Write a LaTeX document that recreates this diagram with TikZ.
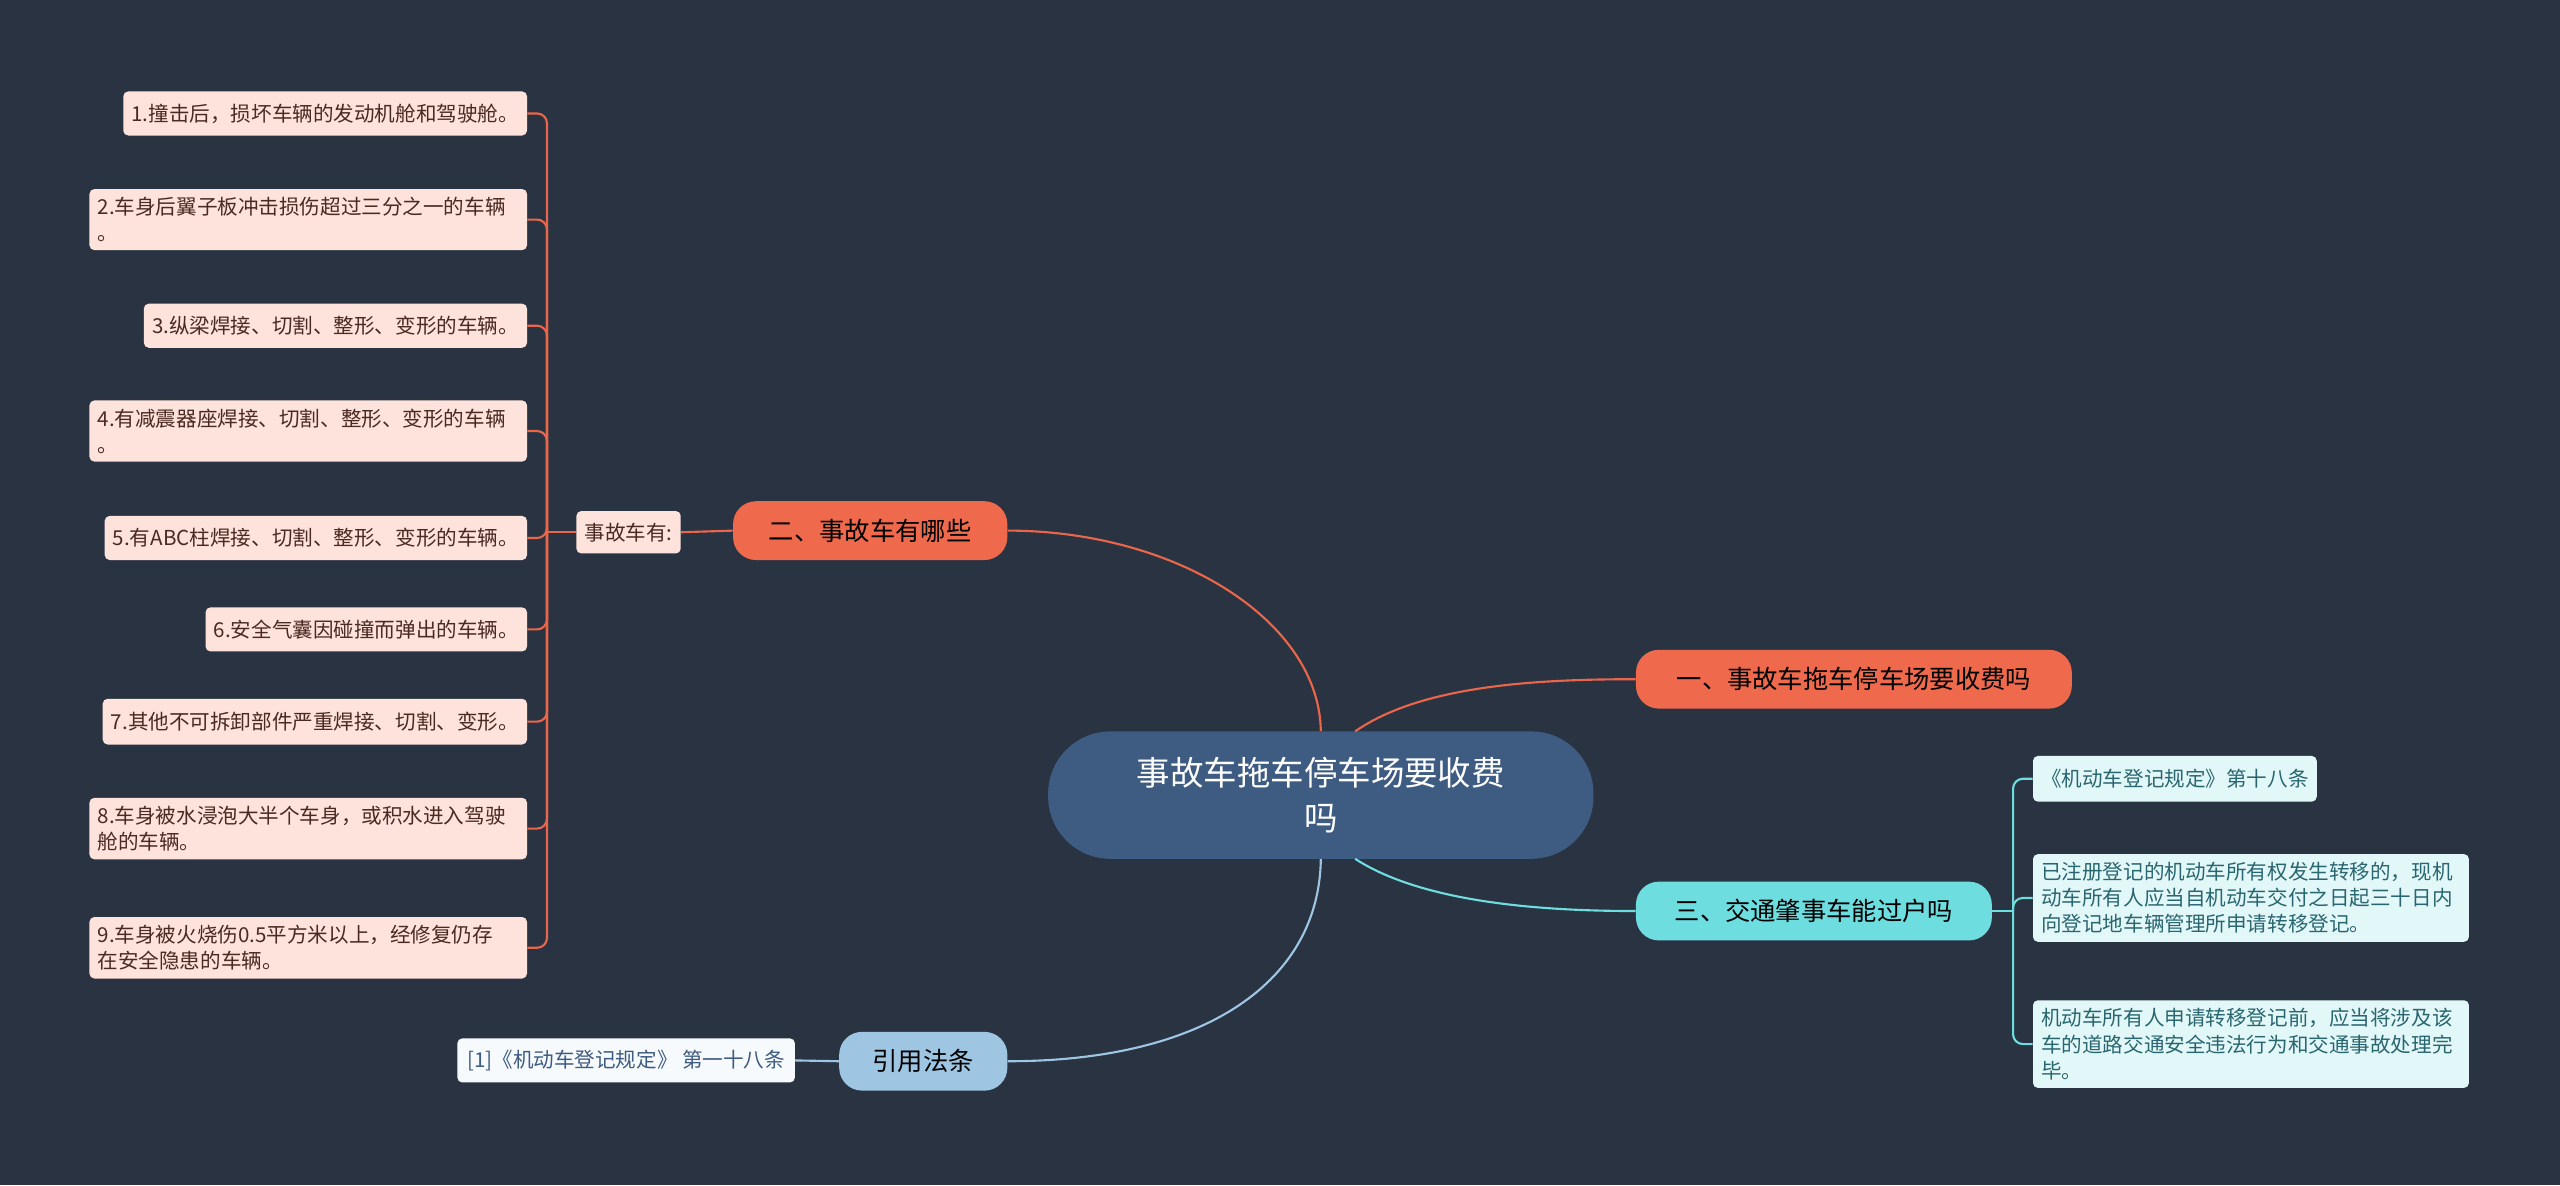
\documentclass[tikz,border=0pt]{standalone}
\usepackage{fontspec}
\newfontfamily\cjk{Noto Sans CJK SC}
\begin{document}
\begin{tikzpicture}[x=1pt,y=-1pt,font=\cjk,
 leafo/.style={fill=leaffill,rounded corners=3,text=leaftext,font=\cjk\fontsize{12.6}{16}\selectfont,align=left,inner sep=5pt,anchor=east},
 leafc/.style={fill=cleaf,rounded corners=3,text=ctext,font=\cjk\fontsize{12.6}{16}\selectfont,align=left,inner sep=5pt,anchor=west},
 br/.style={rounded corners=14,text=black,font=\cjk\fontsize{15.5}{18}\selectfont,minimum height=36pt,inner xsep=12pt},
 lo/.style={draw=orangel,line width=1.3pt},
 lc/.style={draw=cyanl,line width=1.3pt},
 lb/.style={draw=bluel,line width=1.3pt}]
\definecolor{bg}{HTML}{2A3342}
\definecolor{centerf}{HTML}{3E5B82}
\definecolor{orangef}{HTML}{EF6A4C}
\definecolor{orangel}{HTML}{E9664A}
\definecolor{cyanf}{HTML}{6EDDE0}
\definecolor{cyanl}{HTML}{6EDDE0}
\definecolor{bluef}{HTML}{9EC6E2}
\definecolor{bluel}{HTML}{9EC6E2}
\definecolor{leaffill}{HTML}{FDE3DB}
\definecolor{leaftext}{HTML}{4A2A22}
\definecolor{cleaf}{HTML}{E2F8F8}
\definecolor{ctext}{HTML}{2A6670}
\fill[bg] (0,0) rectangle (1568,726);
\useasboundingbox (0,0) rectangle (1568,726);
\node[fill=centerf,rounded corners=38,minimum width=334pt,minimum height=78pt,text=white,align=center,font=\cjk\fontsize{20.5}{28}\selectfont] (c) at (809,487) {事故车拖车停车场要收费\\吗};
\node[br,fill=orangef,minimum width=267pt] (b1) at (1135.5,416) {一、事故车拖车停车场要收费吗};
\node[br,fill=orangef,minimum width=168pt] (b2) at (533,325) {二、事故车有哪些};
\node[br,fill=cyanf,minimum width=218pt] (b3) at (1111,558) {三、交通肇事车能过户吗};
\node[br,fill=bluef,minimum width=103pt] (b4) at (565.5,650) {引用法条};
\draw[lo] (c.north) .. controls (808,380) and (720,325) .. (b2.east);
\draw[lo] (830,448) .. controls (870,420) and (940,416) .. (b1.west);
\draw[lc] (830,526) .. controls (870,552) and (940,558) .. (b3.west);
\draw[lb] (c.south) .. controls (808,600) and (740,650) .. (b4.east);
\node[leafo,anchor=center,minimum height=26pt] (sg) at (385,326) {事故车有:};
\draw[lo] (b2.west) -- (sg.east);
\coordinate (bo) at (335,326);
\draw[lo] (sg.west) -- (bo);
\node[leafo,minimum height=27pt] (i1) at (323,69.5) {1.撞击后，损坏车辆的发动机舱和驾驶舱。};
\node[leafo,text width=258pt] (i2) at (323,134.5) {2.车身后翼子板冲击损伤超过三分之一的车辆\\。};
\node[leafo,minimum height=27pt] (i3) at (323,199.5) {3.纵梁焊接、切割、整形、变形的车辆。};
\node[leafo,text width=258pt] (i4) at (323,264) {4.有减震器座焊接、切割、整形、变形的车辆\\。};
\node[leafo,minimum height=27pt] (i5) at (323,329.5) {5.有ABC柱焊接、切割、整形、变形的车辆。};
\node[leafo,minimum height=27pt] (i6) at (323,385.5) {6.安全气囊因碰撞而弹出的车辆。};
\node[leafo,minimum height=28pt] (i7) at (323,442) {7.其他不可拆卸部件严重焊接、切割、变形。};
\node[leafo,text width=258pt] (i8) at (323,507.5) {8.车身被水浸泡大半个车身，或积水进入驾驶\\舱的车辆。};
\node[leafo,text width=258pt] (i9) at (323,580.5) {9.车身被火烧伤0.5平方米以上，经修复仍存\\在安全隐患的车辆。};
\foreach \i in {1,...,9} \draw[lo,rounded corners=6] (bo) |- (i\i.east);
\coordinate (bc) at (1233,558);
\draw[lc] (b3.east) -- (bc);
\node[leafc,minimum height=28pt] (r1) at (1245,477) {《机动车登记规定》第十八条};
\node[leafc,text width=257pt] (r2) at (1245,550) {已注册登记的机动车所有权发生转移的，现机\\动车所有人应当自机动车交付之日起三十日内\\向登记地车辆管理所申请转移登记。};
\node[leafc,text width=257pt] (r3) at (1245,639.5) {机动车所有人申请转移登记前，应当将涉及该\\车的道路交通安全违法行为和交通事故处理完\\毕。};
\foreach \i in {1,2,3} \draw[lc,rounded corners=6] (bc) |- (r\i.west);
\node[fill=white!92!bluef,rounded corners=3,text=centerf,font=\cjk\fontsize{12.6}{16}\selectfont,minimum height=27pt,inner xsep=6pt] (l1) at (383.5,649.5) {[1]《机动车登记规定》 第一十八条};
\draw[lb] (b4.west) -- (l1.east);
\end{tikzpicture}
\end{document}
